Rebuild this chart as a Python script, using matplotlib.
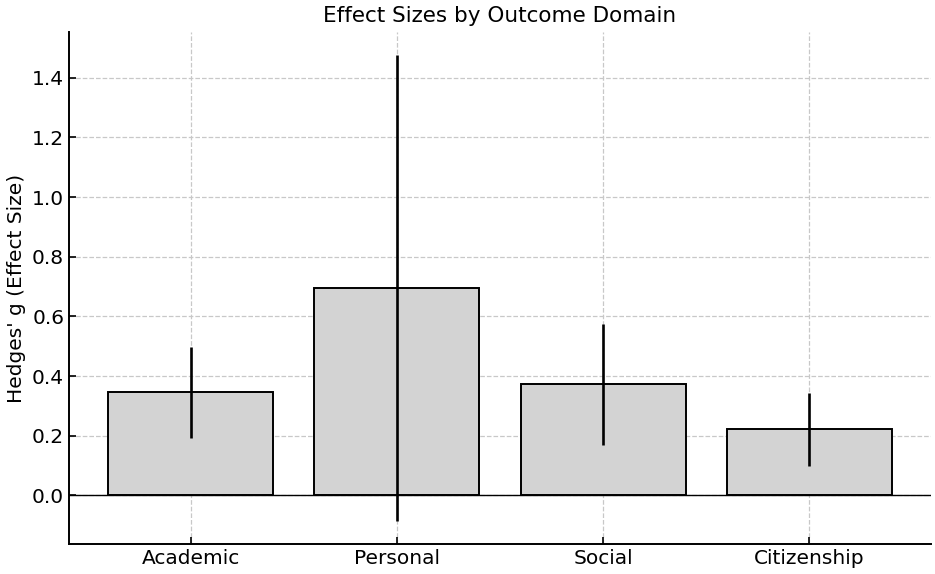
import matplotlib
matplotlib.use("Agg")
import matplotlib.pyplot as plt
import numpy as np

categories = ["Academic", "Personal", "Social", "Citizenship"]
effect_sizes = [0.345, 0.694, 0.372, 0.221]
ci_lower = [0.192, -0.086, 0.170, 0.100]
ci_upper = [0.498, 1.476, 0.576, 0.343]
y_ticks = [0.0, 0.2, 0.4, 0.6, 0.8, 1.0, 1.2, 1.4]

plt.rcParams['font.family'] = ['DejaVu Sans']

fig = plt.figure(figsize=(9.35, 5.74), dpi=100)
ax = fig.add_axes([69/935, (574-544.3)/574, (931-69)/935, (544.3-31.7)/574])

x = np.arange(len(categories))
lower_err = np.array(effect_sizes) - np.array(ci_lower)
upper_err = np.array(ci_upper) - np.array(effect_sizes)

ax.bar(x, effect_sizes, width=0.8, color='lightgray', edgecolor='black',
       linewidth=1.4, zorder=2)
ax.errorbar(x, effect_sizes, yerr=[lower_err, upper_err], fmt='none',
            ecolor='black', elinewidth=1.9, capsize=0, zorder=3)
ax.axhline(0, color='black', linewidth=1.0, zorder=2.5)

ax.set_xticks(x)
ax.set_xticklabels(categories, fontsize=14.5)
ax.set_yticks(y_ticks)
ax.set_yticklabels([f"{v:.1f}" for v in y_ticks], fontsize=14.5)
ax.tick_params(direction='in', length=5, width=1.2)
ax.set_ylabel("Hedges' g (Effect Size)", fontsize=14.5)
ax.set_title("Effect Sizes by Outcome Domain", fontsize=15.5, pad=7)

ax.grid(True, linestyle='--', color='#c8c8c8', linewidth=0.9, zorder=0)
ax.set_axisbelow(True)
for s in ['top', 'right']:
    ax.spines[s].set_visible(False)
for s in ['left', 'bottom']:
    ax.spines[s].set_linewidth(1.4)

fig.savefig("out.png", dpi=100)
